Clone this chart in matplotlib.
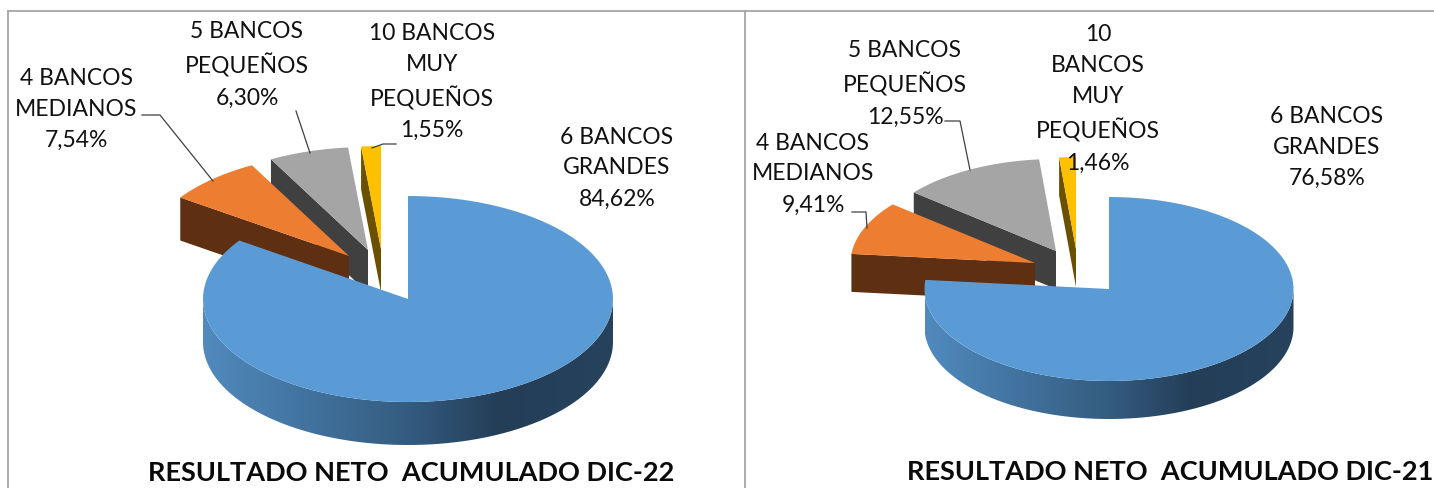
import numpy as np
import matplotlib.pyplot as plt
from matplotlib.colors import LinearSegmentedColormap
from matplotlib.patches import Polygon

### Data ###

categories_22 = ["6 BANCOS\nGRANDES", "4 BANCOS\nMEDIANOS", "5 BANCOS\nPEQUEÑOS", "10 BANCOS\nMUY\nPEQUEÑOS"]
categories_21 = ["6 BANCOS\nGRANDES", "4 BANCOS\nMEDIANOS", "5 BANCOS\nPEQUEÑOS", "10\nBANCOS\nMUY\nPEQUEÑOS"]
values_22 = [84.62, 7.54, 6.30, 1.55]
values_21 = [76.58, 9.41, 12.55, 1.46]
title_22 = "RESULTADO NETO  ACUMULADO DIC-22"
title_21 = "RESULTADO NETO  ACUMULADO DIC-21"

### Style ###

top_cols = ["#5B9BD5", "#ED7D31", "#A5A5A5", "#FFC000"]
side_cols = [None, "#5F2F12", "#404040", "#6B5000"]
blue_side = LinearSegmentedColormap.from_list("side", [(0, "#508ABE"), (0.5, "#345C80"), (0.72, "#243E58"), (1, "#26425C")])

plt.rcParams['font.family'] = ['Lato', 'DejaVu Sans']

fig = plt.figure(figsize=(14.34, 4.89), dpi=100)
ax = fig.add_axes([0, 0, 1, 1])


def arc(cx, cy, rx, ry, a0, a1):
    # angles in degrees, clockwise from 12 o'clock
    t = np.radians(np.linspace(a0, a1, 120))
    return np.column_stack((cx + rx * np.sin(t), cy - ry * np.cos(t)))


def draw_pie(values, centre, rx, ry, depth, shifts):
    cx, cy = centre
    edges = np.concatenate(([0], np.cumsum(values))) / sum(values) * 360
    edges[-1] = 360

    # small exploded slices go first, the big one covers them
    for i in [3, 2, 1]:
        x0 = cx + shifts[i][0]
        y0 = cy + shifts[i][1]
        outer = arc(x0, y0, rx, ry, edges[i], edges[i + 1])
        start = outer[0]
        face = [(x0, y0), start, start + (0, depth), (x0, y0 + depth)]
        ax.add_patch(Polygon(face, fc=side_cols[i], ec="none", zorder=2 + (3 - i)))
        ax.add_patch(Polygon(np.vstack(([(x0, y0)], outer)), fc=top_cols[i], ec="none", zorder=2 + (3 - i)))

    # wall of the big slice, horizontal gradient
    front = arc(cx, cy, rx, ry, 90, 270)
    wall = Polygon(np.vstack((front, front[::-1] + (0, depth))), fc="none", ec="none", zorder=6)
    ax.add_patch(wall)
    grad = np.linspace(0, 1, 256).reshape(1, -1)
    im = ax.imshow(grad, cmap=blue_side, extent=(cx - rx, cx + rx, cy + ry + depth, cy), aspect="auto", zorder=6)
    im.set_clip_path(wall)

    top = arc(cx, cy, rx, ry, edges[0], edges[1])
    ax.add_patch(Polygon(np.vstack(([(cx, cy)], top)), fc=top_cols[0], ec="none", zorder=7))


def draw_labels(categories, values, spots):
    for name, val, (x, y) in zip(categories, values, spots):
        pct = "{:.2f}%".format(val).replace(".", ",")
        ax.text(x, y, name + "\n" + pct, ha="center", va="center", fontsize=16.5,
                color="#111111", linespacing=1.58, zorder=10)


### Left chart ###

draw_pie(values_22, (408, 300), 205, 103, 43, [None, (-59, -43), (-40, -49), (-27, -50)])
draw_labels(categories_22, values_22, [(617, 168), (76, 109), (247, 65), (432, 82)])

### Right chart ###

draw_pie(values_21, (1109, 290), 184.5, 92, 38, [None, (-74, -26), (-53, -38), (-33, -40)])
draw_labels(categories_21, values_21, [(1327, 147), (813, 174), (905, 84), (1098, 99)])

# leader lines
leaders = [
    [(142, 116), (160, 116), (213, 182)],
    [(296, 112), (302, 130), (310, 154)],
    [(396, 145), (383, 145), (372, 149)],
    [(852, 213), (866, 213), (867, 229)],
    [(945, 122), (960, 122), (970, 171)],
]
for line in leaders:
    xs, ys = zip(*line)
    ax.plot(xs, ys, color="#404040", lw=0.9, zorder=8)

# panel frame
ax.plot([8, 8], [489, 12], color="#a6a6a6", lw=1.3, zorder=1)
ax.plot([8, 1434], [12, 12], color="#a6a6a6", lw=1.3, zorder=1)
ax.plot([745, 745], [12, 489], color="#a6a6a6", lw=1.3, zorder=1)

ax.text(411, 473, title_22, ha="center", va="center", fontsize=19.5, fontweight="bold", color="#0a0a0a", zorder=10)
ax.text(1170, 472, title_21, ha="center", va="center", fontsize=19.5, fontweight="bold", color="#0a0a0a", zorder=10)

ax.set_xlim(0, 1434)
ax.set_ylim(489, 0)
ax.axis("off")

plt.savefig("out.png", dpi=100)
